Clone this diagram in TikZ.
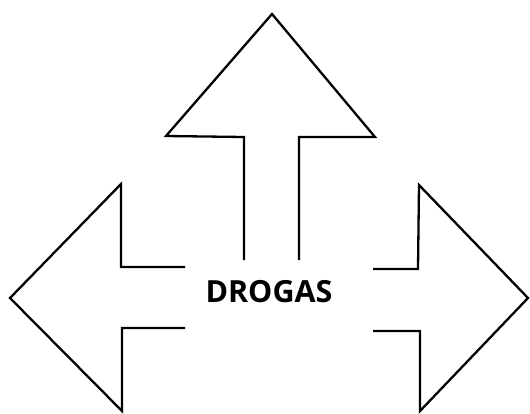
\documentclass[tikz,border=0pt]{standalone}
\usepackage{fontspec}
\setmainfont{Open Sans}
\begin{document}
\begin{tikzpicture}[x=1pt,y=-1pt,
  arrowline/.style={draw=black,line width=2.3pt,line join=miter,line cap=butt},
  label/.style={font=\bfseries\fontsize{30.5}{32}\selectfont,inner sep=0pt}]
\useasboundingbox (0,0) rectangle (530,413);
% up arrow
\draw[arrowline] (244,260) -- (244,137) -- (166,136) -- (272,14) -- (375,137) -- (299,137) -- (299,260);
% left arrow
\draw[arrowline] (185,267) -- (121,267) -- (121,184) -- (10,298) -- (122,411) -- (122,328) -- (185,328);
% right arrow
\draw[arrowline] (373,269) -- (418,269) -- (419,185) -- (528,298) -- (420,411) -- (420,331) -- (373,331);
\node[label] (drogas) at (269,292) {DROGAS};
\end{tikzpicture}
\end{document}
